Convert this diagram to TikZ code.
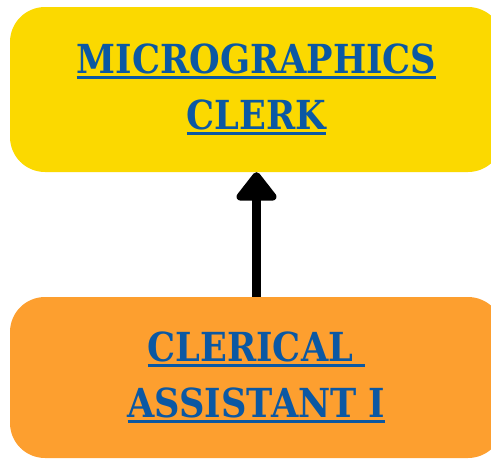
\documentclass[tikz,border=0pt]{standalone}
\usepackage{fontspec}
\usetikzlibrary{arrows.meta}
\newfontfamily\lblfont{DejaVu Serif}[FakeStretch=0.88]
\definecolor{boxyellow}{RGB}{251,217,0}
\definecolor{boxorange}{RGB}{253,159,47}
\definecolor{txtblue}{RGB}{11,88,163}
\newcommand{\myul}[1]{\setbox0\hbox{#1}\rlap{\color{txtblue}\rule[-5pt]{\wd0}{3pt}}\box0}
\tikzset{
  rolebox/.style={rectangle, rounded corners=35pt, draw=none, minimum width=493pt,
    text=txtblue, align=center, font=\lblfont\bfseries\fontsize{40}{56}\selectfont},
  link/.style={line width=9pt, draw=black, -{Triangle[width=46pt,length=31pt,round]}}
}
\begin{document}
\begin{tikzpicture}[x=1pt,y=1pt]
\useasboundingbox (0,0) rectangle (491,-459);
\clip (0,0) rectangle (491,-459);
\node[rolebox, fill=boxyellow, minimum height=165pt] (top) at (256.5,-89.5)
  {\myul{MICROGRAPHICS}\\\myul{CLERK}};
\node[rolebox, fill=boxorange, minimum height=161pt] (bot) at (256.5,-377.5)
  {\myul{CLERICAL\ }\\\myul{ASSISTANT I}};
\draw[link] (bot.north) -- (top.south);
\end{tikzpicture}
\end{document}
